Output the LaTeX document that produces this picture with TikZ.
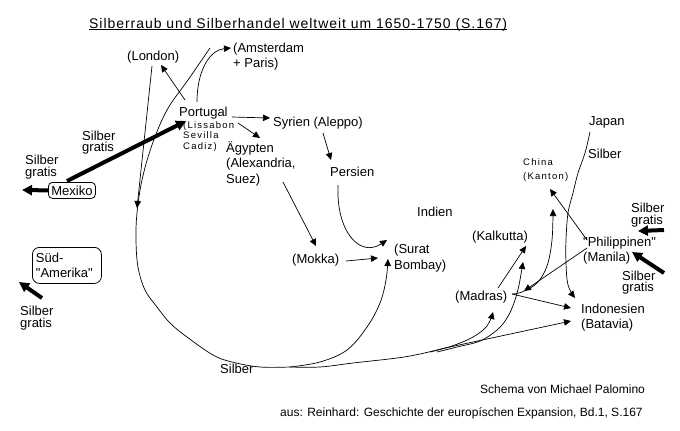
\documentclass[tikz,border=0pt]{standalone}
\usepackage{fontspec}
\setmainfont{Liberation Sans}[Ligatures=TeXOff]
\newfontfamily\titlefont[LetterSpace=6.8]{Liberation Sans}
\newfontfamily\smallsp[LetterSpace=13]{Liberation Sans}
\usetikzlibrary{arrows.meta}
\begin{document}
\begin{tikzpicture}[x=1pt,y=-1pt,
  lbl/.style={inner sep=0pt, anchor=west, align=left, font=\fontsize{13}{15.5}\selectfont},
  gratis/.style={inner sep=0pt, anchor=west, align=left, font=\fontsize{13}{11.5}\selectfont},
  sml/.style={inner sep=0pt, anchor=west, align=left, font=\smallsp\fontsize{9.5}{10.5}\selectfont},
  note/.style={inner sep=0pt, anchor=west, font=\fontsize{12}{14}\selectfont},
  box/.style={draw, line width=0.8pt, rounded corners=#1, inner sep=0pt},
  flow/.style={line width=0.7pt, -{Triangle[length=7pt,width=6.5pt]}},
  curve/.style={line width=0.7pt},
  thick arrow/.style={line width=4pt, -{Triangle[length=10pt,width=10pt]}}
]
\useasboundingbox[fill=white] (0,0) rectangle (680,431);

% title
\node[inner sep=0pt, anchor=base west, font=\titlefont\fontsize{14}{16}\selectfont] (title) at (89,28)
  {Silberraub und Silberhandel weltweit um 1650-1750 (S.167)};
\draw[line width=0.7pt] ([yshift=-1.5pt]title.base west) -- ([yshift=-1.5pt]title.base east);

% labels
\node[lbl] (london) at (127,57) {(London)};
\node[lbl] (amst) at (233,56.5) {(Amsterdam\\+ Paris)};
\node[lbl] (portugal) at (179,113) {Portugal};
\node[sml] (lissabon) at (183,136.5) {(Lissabon\\ Sevilla\\ Cadiz)};
\node[lbl] (syrien) at (273,123) {Syrien (Aleppo)};
\node[lbl] (aegypten) at (226,163.5) {Ägypten\\(Alexandria,\\Suez)};
\node[lbl] (persien) at (330,172) {Persien};
\node[lbl] (indien) at (417,212) {Indien};
\node[lbl] (mokka) at (292,260) {(Mokka)};
\node[lbl] (surat) at (394,258) {(Surat\\Bombay)};
\node[lbl] (kalkutta) at (472,237) {(Kalkutta)};
\node[lbl] (madras) at (455,297) {(Madras)};
\node[lbl] (indo) at (581,317.5) {Indonesien\\(Batavia)};
\node[lbl] (phil) at (583,250.5) {"Philippinen"\\ (Manila)};
\node[lbl] (japan) at (589,122) {Japan};
\node[lbl] (silberjp) at (588,154) {Silber};
\node[sml, font=\smallsp\fontsize{9.5}{14}\selectfont] (china) at (523,170) {China\\(Kanton)};
\node[lbl] (silberbot) at (220,369) {Silber};
\node[gratis] (sgrt) at (631,215) {Silber\\gratis};
\node[gratis] (sgrb) at (622,282.5) {Silber\\gratis};
\node[gratis] (sgpt) at (82,142.5) {Silber\\gratis};
\node[gratis] (sgl) at (25,167) {Silber\\gratis};
\node[gratis] (sgbl) at (20,318) {Silber\\gratis};

% boxes
\node[box=4pt, minimum width=47pt, minimum height=16pt, anchor=north west,
  font=\fontsize{13}{15}\selectfont] (mexiko) at (48,182) {Mexiko};
\node[box=7pt, minimum width=69pt, minimum height=36pt, anchor=north west, align=left,
  text width=62pt, font=\fontsize{13}{15.5}\selectfont] (sued) at (32,247) {Süd-\\"Amerika"};

% notes
\node[note] (schema) at (480,389) {Schema von Michael Palomino};
\node[note] (aus) at (280,413) {aus: Reinhard: Geschichte der europíschen Expansion, Bd.1, S.167};

% coordinates
\coordinate (loopstart) at (210,48);
\coordinate (londonend) at (137,208);
\coordinate (fork) at (290,367);
\coordinate (suratbot) at (388,259);
\coordinate (suratin) at (387,240);
\coordinate (suratleft) at (378,258);
\coordinate (madrasbot) at (493,312);
\coordinate (kalkbot) at (523,262);
\coordinate (kalktip) at (526,246);
\coordinate (madrasout) at (498,288);
\coordinate (madrasright) at (512,294);
\coordinate (chinatip) at (553,209);
\coordinate (chinatip2) at (550,189);
\coordinate (madrastip) at (524,291);
\coordinate (indotip) at (571,308);
\coordinate (bataviatip) at (571,321);
\coordinate (japanend) at (575,298);

% thin flows
\draw[flow] (152,66) -- (londonend);
\draw[flow] (185,100) -- (161,65);
\draw[flow] (197,102) .. controls (197,70) and (210,50) .. (231,48);
\draw[flow] (232,117) -- (270,118);
\draw[flow] (238,123) -- (260,138);
\draw[flow] (323,133) -- (331,160);
\draw[flow] (283,182) -- (316,246);
\draw[flow] (346,261) -- (suratleft);
\draw[flow] (338,185) .. controls (336,232) and (360,258) .. (suratin);

% big loop
\draw[curve] plot[smooth, tension=0.6] coordinates {(loopstart) (188,80) (167,110) (152,145) (142,180) (137,213) (136,240) (138,267) (145,290) (157,307) (170,323) (187,337) (213,355) (232,362) (260,367) (fork)};
\draw[flow] plot[smooth, tension=0.6] coordinates {(fork) (320,362) (347,350) (367,327) (380,303) (386,280) (suratbot)};
\draw[curve] plot[smooth, tension=0.6] coordinates {(fork) (320,367) (353,363) (397,358) (420,354) (445,348)};
\draw[flow] (445,348) -- (bataviatip);
\draw[flow] plot[smooth, tension=0.6] coordinates {(430,352) (452,346) (473,337) (487,326) (madrasbot)};
\draw[flow] plot[smooth, tension=0.6] coordinates {(437,352) (457,347) (480,341) (497,330) (507,318) (514,303) (519,285) (kalkbot)};

% east
\draw[flow] (madrasout) -- (kalktip);
\draw[flow] plot[smooth, tension=0.6] coordinates {(madrasright) (522,292) (537,283) (547,266) (552,240) (chinatip)};
\draw[flow] (587,240) -- (chinatip2);
\draw[flow] (587,248) -- (madrastip);
\draw[flow] (madrasright) -- (indotip);
\draw[flow] plot[smooth, tension=0.6] coordinates {(590,132) (585,153) (578,173) (573,193) (568,213) (566,240) (566,263) (568,285) (japanend)};

% thick arrows
\draw[thick arrow] (67,181) -- (186,121);
\draw[thick arrow] (mexiko.west) -- (22,190);
\draw[thick arrow] (42,298) -- (19,282);
\draw[thick arrow] (664,230) -- (638,231);
\draw[thick arrow] (664,273) -- (632,252);
\end{tikzpicture}
\end{document}
